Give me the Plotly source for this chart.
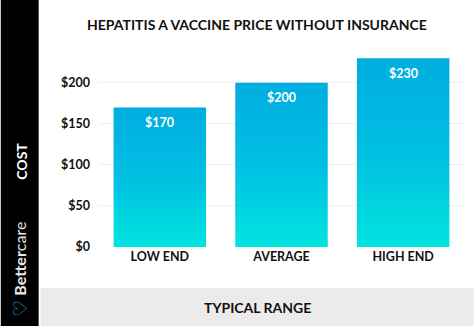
import plotly.graph_objects as go

categories = ["LOW END", "AVERAGE", "HIGH END"]
prices = [170, 200, 230]
ytick_vals = [0, 50, 100, 150, 200]
ytick_text = ["$0", "$50", "$100", "$150", "$200"]
title = "HEPATITIS A VACCINE PRICE WITHOUT INSURANCE"

W, H = 474, 326
L, R, T, B = 98.5, 9.5, 50, 79
pw, ph = W - L - R, H - T - B

def px(x):
    return (x - L) / pw

def py(y):
    return (H - B - y) / ph

FONT = "Lato"
half = 0.38

fig = go.Figure()
for i, (c, v) in enumerate(zip(categories, prices)):
    fig.add_trace(go.Scatter(
        x=[i - half, i - half, i + half, i + half, i - half],
        y=[0, v, v, 0, 0],
        mode="lines", fill="toself",
        line=dict(width=0),
        fillgradient=dict(type="vertical",
                          colorscale=[[0, "#00E4DF"], [0.5, "#00BFE2"], [1, "#00ADE0"]]),
        hoverinfo="skip", showlegend=False,
    ))

annotations = [
    dict(text=f"<b>${v}</b>", x=i, y=v, xref="x", yref="y", yshift=-15, showarrow=False,
         xanchor="center", yanchor="middle",
         font=dict(family=FONT, size=12.5, color="white"))
    for i, v in enumerate(prices)
]

shapes = [
    dict(type="rect", xref="paper", yref="paper", x0=px(0), x1=px(38), y0=py(H), y1=py(0),
         fillcolor="black", line=dict(width=0), layer="below"),
    dict(type="rect", xref="paper", yref="paper", x0=px(40), x1=px(W), y0=py(H), y1=py(288),
         fillcolor="#EBEBEB", line=dict(width=0), layer="below"),
]

def note(text, x, y, size, color, family=FONT, angle=0):
    return dict(text=text, xref="paper", yref="paper", x=px(x), y=py(y), textangle=angle,
                xanchor="center", yanchor="middle", showarrow=False,
                font=dict(family=family, size=size, color=color))

annotations += [
    note(f"<b>{title}</b>", 257, 25, 14, "#111111"),
    note("<b>TYPICAL RANGE</b>", 257, 307, 14, "#111111"),
    note("<b>COST</b>", 20, 161, 14, "white", angle=-90),
    note("<b>Better</b>care", 18, 259, 16, "#E8E8E8", angle=-90),
    note("<b>♡</b>", 18.5, 308.5, 19, "#1E9BD7", family="DejaVu Sans", angle=-90),
]

fig.update_layout(
    width=W, height=H, margin=dict(l=L, r=R, t=T, b=B, autoexpand=False),
    paper_bgcolor="white", plot_bgcolor="white",
    shapes=shapes, annotations=annotations,
    xaxis=dict(range=[-0.5, 2.5], tickvals=list(range(len(categories))), ticktext=[f"<b>{c}</b>" for c in categories],
               showgrid=False, zeroline=False, showline=False, ticks="",
               tickfont=dict(family=FONT, size=12.5, color="#111111"), fixedrange=True),
    yaxis=dict(range=[0, 240], tickvals=ytick_vals, ticktext=[f"<b>{t}</b>" for t in ytick_text],
               showgrid=True, gridcolor="#EFEFEF", gridwidth=1, zeroline=False, showline=False,
               ticks="", ticklabelstandoff=8,
               tickfont=dict(family=FONT, size=12.5, color="#111111"), fixedrange=True),
)

fig.write_html("out.html")
